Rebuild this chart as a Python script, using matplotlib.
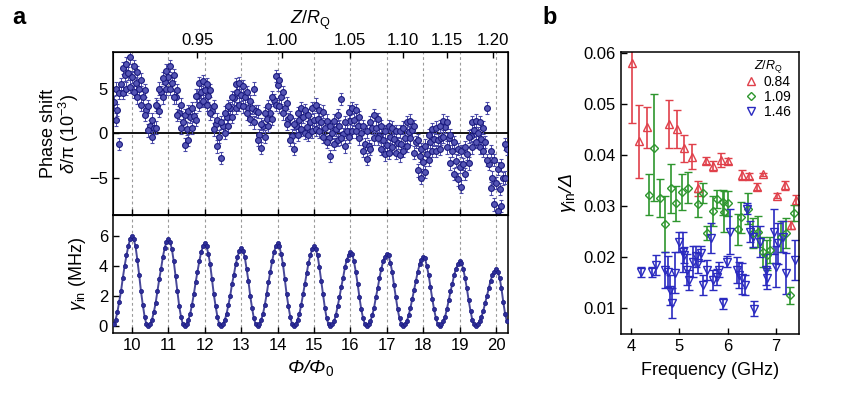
import numpy as np
import matplotlib
matplotlib.use("Agg")
import matplotlib.pyplot as plt

plt.rcParams['font.family'] = ['Liberation Sans', 'DejaVu Sans']
plt.rcParams['mathtext.fontset'] = 'custom'
plt.rcParams['mathtext.rm'] = 'Liberation Sans'
plt.rcParams['mathtext.it'] = 'Liberation Sans:italic'
plt.rcParams['mathtext.bf'] = 'Liberation Sans:bold'

# ---------------- data: panel a ----------------
phase_flux = np.round(np.linspace(9.5, 20.3, 109), 2)
phase_mid = [3.5, 2.6, 5.5, 6.5, 6.7, 6.3, 5.6, 5.0, 4.0, 2.6,
             0.8, 0.6, 3.0, 4.6, 5.7, 6.3, 5.6, 4.0, 2.3, 1.2,
             0.5, 1.8, 1.9, 4.2, 4.6, 4.8, 4.2, 2.5, 1.0, -0.4,
             0.8, 1.8, 2.8, 3.9, 4.6, 4.3, 4.0, 2.8, 2.8, 2.5,
             -0.2, 0.8, 1.6, 2.3, 3.7, 5.4, 4.0, 2.8, 1.6, -0.3,
             0.8, 1.5, 1.8, 0.7, 1.2, 1.5, 1.6, 1.2, 0.6, -0.6,
             0.0, 0.4, 0.8, -0.1, 0.2, 1.3, 1.5, 0.8, 0.0, -1.2,
             -1.5, 0.6, 0.6, -0.3, -0.8, -1.3, -0.4, -0.7, -1.1, -1.2,
             -0.5, 0.1, 0.3, -1.0, -2.6, -3.3, -2.4, -1.0, -0.7, -0.8,
             -0.6, 0.7, -0.6, -2.0, -3.1, -3.8, -3.5, -2.3, -0.3, 0.3,
             0.0, -0.7, -1.0, -3.5, -5.0, -5.6, -6.3, -5.1, -1.8]
env_flux = np.round(np.linspace(9.55, 20.25, 108), 2)
phase_hi = [5.0, 4.5, 7.3, 7.8, 8.5, 7.5, 6.8, 6.0, 4.8, 3.0,
            1.5, 3.2, 5.0, 6.2, 7.0, 7.5, 6.5, 4.8, 3.2, 2.0,
            2.5, 2.8, 4.2, 5.6, 5.8, 5.5, 4.8, 3.0, 1.5, 1.2,
            2.3, 3.0, 4.0, 5.5, 5.6, 5.3, 4.6, 3.6, 5.0, 2.4,
            1.0, 2.2, 3.0, 4.0, 6.4, 6.0, 4.6, 3.4, 1.8, 1.0,
            2.2, 2.8, 2.6, 2.0, 2.8, 3.2, 2.6, 2.4, 1.4, 0.8,
            1.4, 2.0, 3.8, 1.2, 2.4, 2.8, 2.6, 1.8, 0.8, 0.2,
            1.2, 2.0, 1.6, 0.8, 0.2, 0.8, 0.6, 0.2, 0.2, 0.6,
            1.2, 1.4, 0.8, -0.8, -1.8, -1.4, -0.2, 0.4, 0.6, 0.8,
            1.4, 1.2, -0.2, -1.0, -1.8, -2.0, -1.6, -0.4, 1.2, 1.4,
            1.2, 0.6, 2.8, -2.0, -3.0, -4.0, -3.6, -1.2]
phase_lo = [1.5, -1.2, 4.5, 5.0, 5.2, 4.6, 4.0, 3.2, 2.0, 0.3,
            -0.4, 0.6, 2.5, 4.0, 5.0, 5.0, 4.0, 2.0, 0.6, -1.3,
            -0.8, 0.6, 1.5, 3.2, 3.6, 3.2, 2.2, 0.4, -1.5, -2.8,
            0.0, 0.8, 1.8, 2.8, 3.2, 3.0, 2.2, 1.6, 1.2, -0.8,
            -1.7, -0.4, 0.8, 1.6, 3.2, 3.0, 2.2, 1.0, -0.8, -1.8,
            -0.2, 0.4, 0.0, -0.2, 0.2, 0.4, 0.2, -0.4, -1.0, -2.6,
            -1.2, -0.8, -0.6, -1.5, -0.4, 0.2, 0.2, -0.6, -2.0, -2.9,
            -1.8, -0.6, -0.6, -1.8, -2.4, -2.2, -1.6, -2.2, -2.5, -2.0,
            -1.4, -0.6, -2.2, -4.2, -5.0, -4.4, -3.0, -2.0, -2.0, -1.8,
            -0.4, -1.6, -3.4, -4.6, -5.2, -6.0, -4.6, -3.4, -1.6, -1.0,
            -1.6, -2.0, -3.0, -6.2, -8.0, -8.8, -8.2, -5.0]
phase_err = 0.7

gamma_flux = np.round(np.linspace(9.5, 20.3, 217), 2)
gamma_in = [0.1, 0.4, 0.9, 1.6, 2.3, 3.2, 4.0, 4.7, 5.3, 5.8, 6.0,
            5.8, 5.3, 4.4, 3.4, 2.3, 1.4, 0.6, 0.1, 0.0, 0.1, 0.4, 0.9, 1.5, 2.3, 3.1, 3.8, 4.6, 5.2, 5.6, 5.8,
            5.6, 5.1, 4.3, 3.3, 2.3, 1.3, 0.6, 0.1, 0.0, 0.1, 0.4, 0.8, 1.4, 2.1, 2.9, 3.6, 4.3, 4.9, 5.3, 5.5,
            5.3, 4.8, 4.1, 3.1, 2.1, 1.3, 0.6, 0.1, 0.0, 0.1, 0.4, 0.8, 1.4, 2.0, 2.8, 3.4, 4.1, 4.6, 5.0, 5.2,
            5.0, 4.6, 3.8, 3.0, 2.0, 1.2, 0.5, 0.1, 0.0, 0.1, 0.4, 0.8, 1.4, 2.1, 2.9, 3.6, 4.3, 4.9, 5.3, 5.5,
            5.3, 4.8, 4.1, 3.1, 2.1, 1.3, 0.6, 0.1, 0.0, 0.1, 0.4, 0.8, 1.4, 2.1, 2.8, 3.5, 4.2, 4.7, 5.1, 5.3,
            5.1, 4.7, 3.9, 3.0, 2.1, 1.2, 0.5, 0.1, 0.0, 0.1, 0.3, 0.7, 1.3, 1.9, 2.6, 3.2, 3.9, 4.4, 4.7, 4.9,
            4.8, 4.3, 3.6, 2.8, 1.9, 1.1, 0.5, 0.1, 0.0, 0.1, 0.3, 0.7, 1.2, 1.9, 2.5, 3.2, 3.8, 4.3, 4.6, 4.8,
            4.7, 4.2, 3.6, 2.7, 1.9, 1.1, 0.5, 0.1, 0.0, 0.1, 0.3, 0.7, 1.2, 1.8, 2.4, 3.0, 3.6, 4.1, 4.4, 4.6,
            4.5, 4.0, 3.4, 2.6, 1.8, 1.1, 0.5, 0.1, 0.0, 0.1, 0.3, 0.6, 1.1, 1.7, 2.3, 2.8, 3.4, 3.8, 4.1, 4.3,
            4.2, 3.8, 3.2, 2.5, 1.7, 1.0, 0.4, 0.1, 0.0, 0.1, 0.3, 0.6, 1.0, 1.5, 2.0, 2.5, 3.0, 3.4, 3.6, 3.8,
            3.6, 3.2, 2.5, 1.6, 0.8, 0.3]

flux_ticks = [10, 11, 12, 13, 14, 15, 16, 17, 18, 19, 20]
z_labels = ['0.95', '1.00', '1.05', '1.10', '1.15', '1.20']
z_flux_pos = [11.79, 14.13, 15.98, 17.44, 18.65, 19.92]

# ---------------- data: panel b ----------------
freq_084 = [4.01, 4.16, 4.32, 4.79, 4.95, 5.10, 5.26, 5.39, 5.55, 5.70,
            5.86, 6.01, 6.29, 6.45, 6.60, 6.74, 7.03, 7.19, 7.31, 7.42]
ratio_084 = [0.0581, 0.0427, 0.0454, 0.0460, 0.0451, 0.0413, 0.0397, 0.0335, 0.0389, 0.0379,
             0.0390, 0.0388, 0.0361, 0.0359, 0.0338, 0.0362, 0.0320, 0.0341, 0.0263, 0.0312]
err_084 = [0.0118, 0.0072, 0.0041, 0.0047, 0.0038, 0.0027, 0.0025, 0.0015, 0.0007, 0.0010,
           0.0013, 0.0006, 0.0010, 0.0006, 0.0007, 0.0003, 0.0005, 0.0009, 0.0008, 0.0010]

freq_109 = [4.37, 4.48, 4.60, 4.70, 4.82, 4.93, 5.05, 5.17, 5.38, 5.48,
            5.57, 5.69, 5.79, 5.90, 5.92, 6.01, 6.22, 6.27, 6.43, 6.52,
            6.62, 6.74, 6.82, 6.88, 7.10, 7.22, 7.29, 7.38]
ratio_109 = [0.0322, 0.0414, 0.0315, 0.0264, 0.0335, 0.0305, 0.0327, 0.0336, 0.0303, 0.0325,
             0.0247, 0.0290, 0.0314, 0.0307, 0.0289, 0.0305, 0.0254, 0.0278, 0.0295, 0.0247,
             0.0250, 0.0210, 0.0204, 0.0214, 0.0240, 0.0247, 0.0125, 0.0286]
err_109 = [0.0040, 0.0105, 0.0037, 0.0055, 0.0048, 0.0035, 0.0035, 0.0030, 0.0025, 0.0020,
           0.0013, 0.0030, 0.0017, 0.0025, 0.0040, 0.0025, 0.0030, 0.0030, 0.0030, 0.0030,
           0.0030, 0.0030, 0.0030, 0.0025, 0.0030, 0.0030, 0.0017, 0.0015]

freq_146 = [4.21, 4.43, 4.52, 4.70, 4.77, 4.81, 4.84, 4.91, 5.00, 5.07,
            5.10, 5.15, 5.21, 5.28, 5.35, 5.39, 5.44, 5.50, 5.57, 5.65,
            5.70, 5.77, 5.83, 5.90, 5.98, 6.04, 6.19, 6.24, 6.29, 6.36,
            6.41, 6.46, 6.52, 6.55, 6.67, 6.79, 6.82, 6.96, 7.01, 7.05,
            7.15, 7.22, 7.39]
ratio_146 = [0.0171, 0.0171, 0.0184, 0.0175, 0.0171, 0.0135, 0.0110, 0.0169, 0.0230, 0.0210,
             0.0204, 0.0175, 0.0155, 0.0191, 0.0201, 0.0188, 0.0207, 0.0145, 0.0175, 0.0237,
             0.0155, 0.0161, 0.0175, 0.0109, 0.0191, 0.0250, 0.0175, 0.0165, 0.0158, 0.0145,
             0.0295, 0.0250, 0.0240, 0.0099, 0.0230, 0.0175, 0.0158, 0.0250, 0.0181, 0.0227,
             0.0240, 0.0168, 0.0194]
err_146 = [0.0010, 0.0010, 0.0020, 0.0035, 0.0030, 0.0030, 0.0030, 0.0040, 0.0020, 0.0040,
           0.0015, 0.0030, 0.0020, 0.0030, 0.0020, 0.0020, 0.0015, 0.0020, 0.0020, 0.0030,
           0.0020, 0.0015, 0.0015, 0.0010, 0.0010, 0.0045, 0.0025, 0.0025, 0.0030, 0.0020,
           0.0010, 0.0020, 0.0020, 0.0015, 0.0030, 0.0030, 0.0020, 0.0045, 0.0040, 0.0040,
           0.0030, 0.0040, 0.0040]

series_b = [
    ('0.84', freq_084, ratio_084, err_084, '^', '#e0404a'),
    ('1.09', freq_109, ratio_109, err_109, 'D', '#2e962e'),
    ('1.46', freq_146, ratio_146, err_146, 'v', '#2a2ac0'),
]

# ---------------- figure ----------------
navy = '#1a1a80'
fig = plt.figure(figsize=(8.65, 3.93), dpi=100)
ax1 = fig.add_axes([0.1306, 0.4529, 0.4567, 0.4148])
ax2 = fig.add_axes([0.1306, 0.1527, 0.4567, 0.3002], sharex=ax1)
axb = fig.add_axes([0.7179, 0.1501, 0.2058, 0.7176])

for ax in (ax1, ax2):
    for xv in flux_ticks:
        ax.axvline(xv, color='#9a9a9a', lw=0.8, ls=(0, (2.5, 2.5)), zorder=0)
    ax.tick_params(direction='in', labelsize=12, length=4, width=1)
    for s in ax.spines.values():
        s.set_linewidth(1.1)

ax1.axhline(0, color='black', lw=1.3, zorder=1)
for xs, ys in ((phase_flux, phase_mid), (env_flux, phase_hi), (env_flux, phase_lo)):
    ax1.errorbar(xs, ys, yerr=phase_err, fmt='o', ms=4.2, mfc='#5656b4', mec=navy,
                 mew=0.8, ecolor='#4a4aa8', elinewidth=0.7, capsize=1.3, zorder=3)
ax1.set_xlim(9.48, 20.33)
ax1.set_ylim(-9.2, 9.1)
ax1.set_yticks([-5, 0, 5])
ax1.set_yticklabels(['\u22125', '0', '5'])
ax1.tick_params(labelbottom=False)
ax1.set_ylabel('Phase shift\n' + r'$\delta/\mathrm{\pi}$ (10$^{-3}$)', fontsize=13, labelpad=6,
               linespacing=1.0)

top = ax1.twiny()
top.set_xlim(ax1.get_xlim())
top.set_xticks(z_flux_pos)
top.set_xticklabels(z_labels)
top.tick_params(direction='in', labelsize=12, length=4, width=1, pad=3)
top.set_xlabel(r'$Z/R_{\rm Q}$', fontsize=13, labelpad=6)

ax2.plot(gamma_flux, gamma_in, '-', color=navy, lw=1.4, alpha=0.8, zorder=2)
ax2.plot(gamma_flux, gamma_in, 'o', color=navy, ms=3.0, mew=0.5, mfc='#2e2e98', zorder=3)
ax2.set_ylim(-0.47, 7.4)
ax2.set_yticks([0, 2, 4, 6])
ax2.set_xticks(flux_ticks)
ax2.set_xlabel('\u03a6/\u03a6$_{\\rm 0}$', fontsize=14, labelpad=4, style='italic')
ax2.set_ylabel(r'$\gamma_{\rm in}$ (MHz)', fontsize=13, labelpad=8)

# panel b
for lab, f, r, e, m, c in series_b:
    axb.errorbar(f, r, yerr=e, fmt=m, ms=5.8 if m != 'D' else 4.4, mfc='none', mec=c,
                 mew=1.0, ecolor=c, elinewidth=1.2, capsize=2.8, capthick=1.2, label=lab)
axb.set_xlim(3.79, 7.48)
axb.set_ylim(0.0049, 0.0602)
axb.set_xticks([4, 5, 6, 7])
axb.set_yticks([0.01, 0.02, 0.03, 0.04, 0.05, 0.06])
axb.set_yticklabels(['0.01', '0.02', '0.03', '0.04', '0.05', '0.06'])
axb.tick_params(direction='in', labelsize=12, length=4, width=1)
for s in axb.spines.values():
    s.set_linewidth(1.1)
axb.set_xlabel('Frequency (GHz)', fontsize=13, labelpad=6)
axb.set_ylabel('$\\gamma_{\\rm in}$/\u0394', fontsize=14, labelpad=4, style='italic')
handles, labels = axb.get_legend_handles_labels()
handles = [h[0] for h in handles]
leg = axb.legend(handles, labels, title=r'$Z/R_{\rm Q}$', loc='upper right',
                 frameon=False, fontsize=10, title_fontsize=9, handlelength=0.8,
                 handletextpad=0.5, labelspacing=0.05, borderaxespad=0.2,
                 bbox_to_anchor=(1.0, 1.01))

fig.text(12 / 865, 1 - 18 / 393, 'a', fontsize=17, fontweight='bold', va='center', ha='left')
fig.text(542 / 865, 1 - 18 / 393, 'b', fontsize=17, fontweight='bold', va='center', ha='left')

fig.savefig('out.png', dpi=100)
